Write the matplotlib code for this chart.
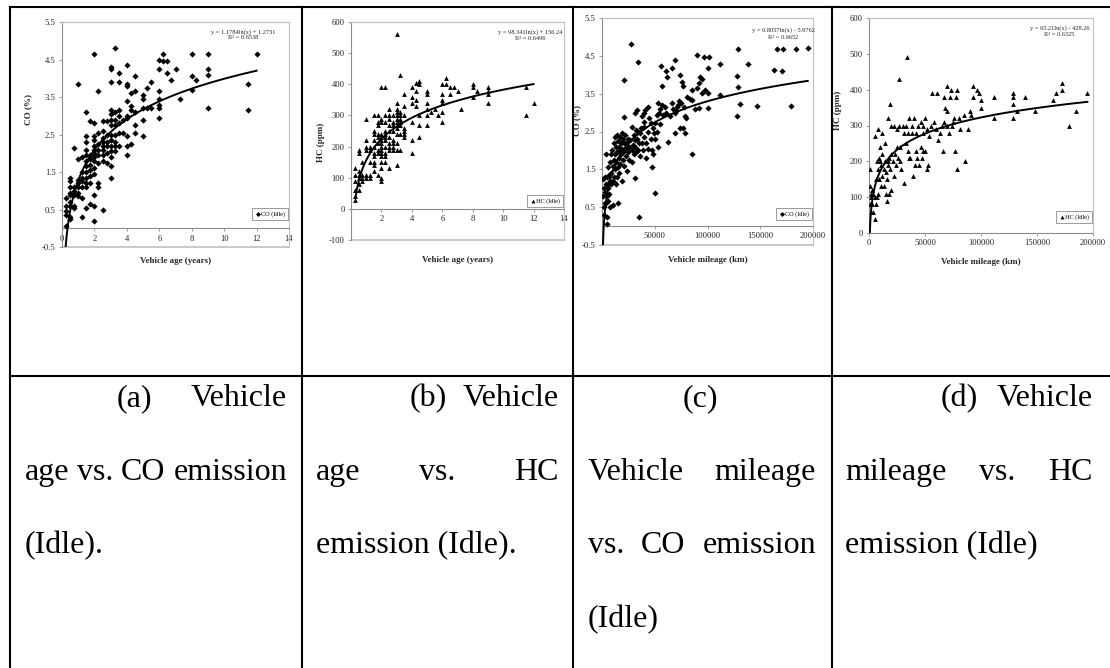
import matplotlib.pyplot as plt
import numpy as np
from matplotlib.lines import Line2D

plt.rcParams['font.family'] = ['Liberation Serif', 'DejaVu Serif']

W, H = 1110, 668

# (a) vehicle age (years) vs CO (%)
age_co = [
    (0.25, 0.8), (0.25, 0.6), (0.25, 0.45), (0.25, 0.35), (0.25, 0.05),
    (0.5, 1.35), (0.5, 1.25), (0.5, 1.1), (0.5, 0.95), (0.5, 0.9), (0.5, 0.7), (0.5, 0.6), (0.5, 0.3), (0.5, 0.25),
    (0.75, 2.15), (0.75, 1.1), (0.75, 1.0), (0.75, 0.9), (0.75, 0.6), (0.75, 0.55),
    (1, 3.85), (1, 1.85), (1, 1.3), (1, 1.2), (1, 1.1), (1, 0.95), (1, 0.85),
    (1.25, 1.9), (1.25, 1.5), (1.25, 1.35), (1.25, 1.25), (1.25, 1.1), (1.25, 0.8), (1.25, 0.3),
    (1.5, 3.1), (1.5, 2.45), (1.5, 2.3), (1.5, 2.1), (1.5, 1.95), (1.5, 1.8), (1.5, 1.65), (1.5, 1.5),
    (1.5, 1.35), (1.5, 1.2), (1.5, 1.1), (1.5, 0.55),
    (1.75, 2.85), (1.75, 1.95), (1.75, 1.85), (1.75, 1.7), (1.75, 1.55), (1.75, 1.4), (1.75, 1.2), (1.75, 0.65),
    (2, 4.65), (2, 2.8), (2, 2.45), (2, 2.35), (2, 2.2), (2, 2.1), (2, 2.0), (2, 1.9), (2, 1.8), (2, 1.6),
    (2, 1.45), (2, 0.9), (2, 0.6), (2, 0.2),
    (2.25, 3.65), (2.25, 2.55), (2.25, 2.25), (2.25, 2.1), (2.25, 1.95), (2.25, 1.75), (2.25, 1.2), (2.25, 1.1),
    (2.5, 2.85), (2.5, 2.6), (2.5, 2.4), (2.5, 2.3), (2.5, 2.2), (2.5, 2.1), (2.5, 1.95), (2.5, 1.8), (2.5, 0.5),
    (2.75, 2.85), (2.75, 2.5), (2.75, 2.3), (2.75, 2.2), (2.75, 2.0), (2.75, 1.75),
    (3, 4.3), (3, 4.25), (3, 3.9), (3, 3.15), (3, 3.05), (3, 2.9), (3, 2.75), (3, 2.5), (3, 2.35), (3, 2.2),
    (3, 2.05), (3, 1.9), (3, 1.65), (3, 1.35),
    (3.25, 4.8), (3.25, 3.1), (3.25, 2.9), (3.25, 2.75), (3.25, 2.5), (3.25, 2.3), (3.25, 2.2), (3.25, 2.05),
    (3.5, 4.15), (3.5, 3.9), (3.5, 3.15), (3.5, 3.0), (3.5, 2.8), (3.5, 2.55), (3.5, 2.2),
    (3.75, 2.9), (3.75, 2.55),
    (4, 4.35), (4, 3.85), (4, 3.8), (4, 3.4), (4, 3.0), (4, 2.95), (4, 2.45), (4, 2.2), (4, 1.95),
    (4.25, 3.6), (4.25, 3.25), (4.25, 3.15), (4.25, 2.25),
    (4.5, 4.05), (4.5, 3.65), (4.5, 3.1), (4.5, 2.75), (4.5, 2.55),
    (5, 3.55), (5, 3.45), (5, 3.2), (5, 2.9), (5, 2.45), (5.25, 3.2), (5.25, 3.75), (5.5, 3.9), (5.5, 3.2),
    (6, 4.5), (6, 4.25), (6, 3.65), (6, 3.45), (6, 3.3), (6, 3.2), (6, 2.95), (6.25, 4.45), (6.25, 4.65),
    (6.5, 4.45), (6.5, 4.15), (6.75, 3.95), (7, 4.25), (7.25, 3.45),
    (8, 4.65), (8, 4.05), (8, 3.7), (8.25, 3.95), (9, 4.65), (9, 4.25), (9, 4.1), (9, 3.2),
    (11.5, 3.85), (11.5, 3.15), (12, 4.65),
]

# (b) vehicle age (years) vs HC (ppm)
age_hc = [
    (0.25, 130), (0.25, 110), (0.25, 90), (0.25, 60), (0.25, 40), (0.25, 30),
    (0.5, 190), (0.5, 180), (0.5, 120), (0.5, 110), (0.5, 100), (0.5, 80), (0.5, 60),
    (0.75, 150), (0.75, 110), (0.75, 100), (0.75, 90),
    (1, 290), (1, 220), (1, 200), (1, 190), (1, 110), (1, 100),
    (1.25, 200), (1.25, 190), (1.25, 150), (1.25, 110), (1.25, 100),
    (1.5, 300), (1.5, 250), (1.5, 240), (1.5, 220), (1.5, 200), (1.5, 180), (1.5, 170), (1.5, 150), (1.5, 140), (1.5, 120),
    (1.75, 300), (1.75, 280), (1.75, 270), (1.75, 240), (1.75, 230), (1.75, 210), (1.75, 190), (1.75, 180), (1.75, 110),
    (2, 390), (2, 290), (2, 280), (2, 240), (2, 230), (2, 220), (2, 210), (2, 200), (2, 190), (2, 180), (2, 170),
    (2, 150), (2, 130), (2, 100), (2, 90),
    (2.25, 390), (2.25, 300), (2.25, 280), (2.25, 250), (2.25, 240), (2.25, 230), (2.25, 220), (2.25, 200),
    (2.25, 180), (2.25, 170), (2.25, 150),
    (2.5, 320), (2.5, 300), (2.5, 290), (2.5, 270), (2.5, 250), (2.5, 230), (2.5, 210), (2.5, 200), (2.5, 190), (2.5, 130),
    (2.75, 300), (2.75, 280), (2.75, 270), (2.75, 250), (2.75, 220), (2.75, 210), (2.75, 200), (2.75, 190),
    (3, 560), (3, 340), (3, 320), (3, 310), (3, 300), (3, 290), (3, 280), (3, 270), (3, 260), (3, 240), (3, 210),
    (3, 190), (3, 140),
    (3.25, 430), (3.25, 310), (3.25, 300), (3.25, 290), (3.25, 280), (3.25, 270), (3.25, 240), (3.25, 190),
    (3.5, 370), (3.5, 330), (3.5, 300), (3.5, 260), (3.5, 250), (3.5, 240), (3.5, 230),
    (4, 390), (4, 360), (4, 340), (4, 280), (4, 220), (4, 180), (4.25, 405), (4.25, 380), (4.25, 350), (4.25, 330),
    (4.5, 410), (4.5, 400), (4.5, 300), (4.5, 270), (4.5, 230),
    (5, 380), (5, 370), (5, 340), (5, 320), (5, 300), (5, 270), (5.25, 310), (5.5, 320), (5.75, 300),
    (6, 400), (6, 370), (6, 350), (6, 340), (6, 310), (6, 280), (6.25, 420), (6.25, 400), (6.5, 390), (6.5, 370),
    (6.75, 390), (7, 380), (7.25, 320), (8, 400), (8, 390), (8, 360), (8.25, 380),
    (9, 390), (9, 380), (9, 370), (9, 340), (11.5, 390), (11.5, 300), (12, 340),
]

# (c) vehicle mileage (km) vs CO (%)
km_co = [
    (500, 1.25), (1000, 0.8), (1500, 0.5), (2000, 0.3), (2000, 1.0), (2500, 0.6), (3000, 1.3), (3000, 0.9),
    (3500, 0.6), (4000, 1.1), (4000, 1.9), (4500, 0.8), (5000, 1.3), (5000, 0.25), (5000, 0.05), (5500, 1.0),
    (6000, 0.65), (6000, 1.55), (6500, 1.1), (7000, 1.35), (7000, 0.85), (7500, 1.7), (8000, 1.2), (8000, 0.5),
    (8500, 1.9), (9000, 1.4), (9000, 1.1), (9500, 2.0), (10000, 1.6), (10000, 1.2), (10500, 0.55), (11000, 2.2),
    (11000, 1.75), (11500, 1.3), (12000, 2.35), (12000, 1.9), (12500, 1.5), (13000, 2.1), (13000, 1.1),
    (13500, 1.7), (14000, 2.4), (14000, 1.3), (14500, 1.95), (15000, 2.25), (15000, 1.55), (15500, 0.6),
    (16000, 2.1), (16000, 1.8), (16500, 1.4), (17000, 2.35), (17000, 2.0), (17500, 1.65), (18000, 2.2),
    (18000, 1.9), (18500, 1.2), (19000, 2.45), (19000, 2.05), (19500, 1.75), (20000, 2.3), (20000, 1.95),
    (20500, 3.85), (20500, 2.88), (21000, 2.2), (21000, 1.6), (22000, 2.4), (22000, 2.05), (23000, 1.85),
    (23000, 2.2), (24000, 2.15), (24000, 1.45), (25000, 2.3), (25000, 1.95), (26000, 2.1), (26000, 1.75),
    (27000, 2.28), (27800, 4.82), (28000, 2.63), (28000, 2.0), (28500, 1.7), (29000, 2.15), (30000, 2.4),
    (30000, 1.9), (31000, 2.1), (31600, 2.98), (31600, 2.28), (31600, 1.26), (32000, 2.55), (32000, 1.95),
    (33000, 3.07), (33000, 2.3), (34000, 4.35), (34000, 2.5), (34000, 2.0), (35000, 2.2), (35000, 0.23),
    (36000, 2.45), (36000, 1.85), (37000, 2.6), (38000, 2.9), (38000, 2.2), (39000, 2.0), (39500, 2.98),
    (39500, 2.63), (40000, 2.35), (40000, 2.75), (41000, 3.07), (42000, 2.2), (42000, 1.8), (44000, 3.16),
    (44000, 2.5), (44000, 2.05), (45000, 2.85), (46000, 2.72), (46000, 2.3), (47000, 2.0), (47000, 1.57),
    (48000, 2.6), (48000, 1.9), (49000, 2.45), (50000, 2.3), (50000, 0.88), (50500, 2.72), (52000, 2.94),
    (52000, 2.5), (53000, 3.25), (53000, 2.1), (54000, 3.0), (55000, 3.1), (55000, 2.7), (56000, 4.22),
    (57000, 3.69), (57000, 3.2), (58000, 2.94), (60000, 3.16), (60600, 4.1), (61000, 3.0), (62000, 3.95),
    (63000, 2.23), (64000, 2.9), (66000, 4.17), (66000, 3.25), (67000, 3.1), (69000, 4.38), (69000, 2.98),
    (69000, 2.45), (70000, 3.05), (71000, 3.16), (72000, 3.2), (73000, 3.3), (74000, 4.0), (74000, 2.59),
    (75000, 3.25), (76000, 3.82), (77000, 3.69), (77000, 2.59), (78000, 3.15), (79000, 2.9), (79000, 2.47),
    (80000, 2.85), (81000, 3.42), (83000, 3.35), (85000, 3.6), (85000, 3.34), (85000, 1.91), (88000, 3.1),
    (90000, 4.53), (90000, 3.65), (92000, 3.78), (92000, 3.12), (93000, 3.95), (95000, 3.9), (95000, 3.51),
    (97000, 4.47), (98000, 3.6), (100000, 4.17), (100000, 3.51), (100000, 3.12), (101000, 4.47),
    (112000, 4.28), (112000, 3.47), (128000, 3.97), (128000, 2.91), (129000, 4.68), (129000, 3.67),
    (131000, 3.22), (138000, 4.28), (147000, 3.18), (163000, 4.13), (166000, 4.68), (171000, 4.09),
    (172000, 4.68), (179000, 3.18), (184000, 4.68), (195000, 4.7),
]

# (d) vehicle mileage (km) vs HC (ppm)
km_hc = [
    (500, 180), (1000, 130), (1000, 80), (1500, 110), (2000, 100), (2000, 60), (3000, 120), (3000, 80),
    (4000, 110), (4000, 60), (5000, 270), (5000, 100), (5000, 40), (6000, 150), (6000, 80), (7000, 200),
    (7000, 100), (8000, 290), (8000, 180), (8000, 110), (9000, 210), (9000, 150), (10000, 240), (10000, 200),
    (11000, 190), (11000, 130), (12000, 280), (12000, 220), (12000, 160), (13000, 180), (13000, 130),
    (14000, 250), (14000, 200), (15000, 170), (15000, 110), (16000, 150), (16000, 90), (17000, 320),
    (17000, 200), (17000, 190), (18000, 210), (18000, 110), (19000, 360), (19000, 180), (20000, 300),
    (20000, 220), (20000, 120), (21000, 200), (22000, 300), (22000, 160), (23000, 220), (24000, 190),
    (25000, 290), (25000, 240), (26000, 210), (27000, 430), (27000, 300), (28000, 240), (28000, 200),
    (29000, 180), (30000, 300), (31000, 280), (31000, 140), (33000, 300), (33000, 250), (34000, 490),
    (35000, 280), (35000, 230), (36000, 320), (36000, 210), (37000, 210), (38000, 300), (38000, 280),
    (39000, 160), (40000, 320), (41000, 190), (42000, 280), (42000, 230), (43000, 210), (44000, 300),
    (45000, 190), (46000, 310), (46000, 240), (47000, 210), (48000, 300), (48000, 280), (48000, 230),
    (50000, 320), (50000, 230), (52000, 290), (52000, 180), (53000, 190), (54000, 270), (55000, 300),
    (56000, 390), (58000, 310), (60000, 290), (61000, 390), (62000, 260), (63000, 280), (65000, 300),
    (66000, 230), (67000, 380), (67000, 310), (68000, 350), (70000, 410), (70000, 340), (70000, 300),
    (71000, 280), (72000, 380), (73000, 400), (74000, 300), (75000, 310), (76000, 320), (77000, 230),
    (78000, 380), (79000, 400), (79000, 180), (80000, 320), (81000, 290), (85000, 330), (86000, 200),
    (88000, 290), (90000, 340), (91000, 330), (93000, 410), (93000, 380), (96000, 400), (98000, 390),
    (100000, 370), (100000, 350), (112000, 380), (112000, 320), (129000, 390), (129000, 380),
    (129000, 360), (129000, 320), (132000, 340), (139000, 380), (148000, 340), (164000, 370),
    (167000, 390), (172000, 420), (172000, 400), (179000, 300), (185000, 340), (195000, 390),
]

# trendline coefficients shown on each chart: y = a ln(x) + b
fits = [(1.1784, 1.2731, 0.6538), (98.341, 156.24, 0.6496), (0.8057, -5.9762, 0.6652), (65.21, -428.26, 0.6325)]
fit_ranges = [(0.22, 12), (0.3, 12), (895, 195000), (711, 195000)]

captions = [
    ["(a) Vehicle", "age vs. CO emission", "(Idle)."],
    ["(b) Vehicle", "age vs. HC", "emission (Idle)."],
    ["(c)", "Vehicle mileage", "vs. CO emission", "(Idle)"],
    ["(d) Vehicle", "mileage vs. HC", "emission (Idle)"],
]

fig = plt.figure(figsize=(W / 100, H / 100), dpi=100)
fig.patch.set_facecolor('white')

FRAME = '#c0c0c0'
AXC = '#8c8c8c'
TXT = '#262626'


def px_axes(l, t, r, b):
    return fig.add_axes([l / W, 1 - b / H, (r - l) / W, (b - t) / H])


panels = [
    dict(box=(62, 22, 289, 247), pts=age_co, marker='D', s=10, leg='CO (Idle)',
         xlim=(0, 14), ylim=(-0.5, 5.5), xt=np.arange(0, 15, 2), yt=np.arange(-0.5, 5.6, 1.0), yfmt='{:.1f}',
         xlabel='Vehicle age (years)', ylabel='CO (%)', ylc=(-0.13, 0.61), xlc=(0.5, -0.045),
         eq=(0.80, 0.955, 0.933), legpos=(1.0, 0.115)),
    dict(box=(351, 22, 564, 240), pts=age_hc, marker='^', s=12, leg='HC (Idle)',
         xlim=(0, 14), ylim=(-100, 600), xt=np.arange(2, 15, 2), yt=np.arange(-100, 601, 100), yfmt='{:.0f}',
         xlabel='Vehicle age (years)', ylabel='HC (ppm)', ylc=(-0.12, 0.45), xlc=(0.5, -0.075),
         eq=(0.84, 0.955, 0.925), legpos=(1.0, 0.147)),
    dict(box=(602, 18, 813, 245), pts=km_co, marker='D', s=10, leg='CO (Idle)',
         xlim=(0, 200000), ylim=(-0.5, 5.5), xt=np.arange(50000, 200001, 50000), yt=np.arange(-0.5, 5.6, 1.0),
         yfmt='{:.1f}', xlabel='Vehicle mileage (km)', ylabel='CO (%)', ylc=(-0.1, 0.55), xlc=(0.5, -0.05),
         eq=(0.86, 0.945, 0.915), legpos=(1.0, 0.106)),
    dict(box=(869, 18, 1093, 233), pts=km_hc, marker='^', s=12, leg='HC (Idle)',
         xlim=(0, 200000), ylim=(0, 600), xt=np.arange(0, 200001, 50000), yt=np.arange(0, 601, 100),
         yfmt='{:.0f}', xlabel='Vehicle mileage (km)', ylabel='HC (ppm)', ylc=(-0.12, 0.57), xlc=(0.5, -0.115),
         eq=(0.85, 0.955, 0.925), legpos=(1.0, 0.04)),
]

for p, (a, b, r2), (x0, x1) in zip(panels, fits, fit_ranges):
    ax = px_axes(*p['box'])
    ax.set_xlim(p['xlim'])
    ax.set_ylim(p['ylim'])
    pts = np.array(p['pts'], dtype=float)
    sc = ax.scatter(pts[:, 0], pts[:, 1], marker=p['marker'], s=p['s'], color='black', linewidths=0, zorder=3)
    xs = np.linspace(x0, x1, 300)
    ax.plot(xs, a * np.log(xs) + b, color='black', lw=1.4, zorder=4)

    for side in ['top', 'right']:
        ax.spines[side].set_color(FRAME)
        ax.spines[side].set_linewidth(0.8)
    for side in ['left', 'bottom']:
        ax.spines[side].set_color(AXC)
        ax.spines[side].set_linewidth(0.8)
    if p['ylim'][0] < 0:
        ax.spines['bottom'].set_position(('data', 0))
        ax.axhline(p['ylim'][0], color=FRAME, lw=1.2, clip_on=False)

    ax.set_xticks(p['xt'])
    ax.set_xticklabels([str(int(v)) for v in p['xt']])
    ax.set_yticks(p['yt'])
    ax.set_yticklabels([p['yfmt'].format(v) for v in p['yt']])
    ax.tick_params(direction='out', length=2.5, width=0.6, color=AXC, labelsize=6.2, labelcolor=TXT, pad=2)

    ax.set_xlabel(p['xlabel'], fontsize=6.5, fontweight='bold', color=TXT)
    ax.set_ylabel(p['ylabel'], fontsize=6.5, fontweight='bold', color=TXT)
    ax.xaxis.set_label_coords(*p['xlc'])
    ax.yaxis.set_label_coords(*p['ylc'])

    sign = '+' if b >= 0 else '-'
    ex, ey1, ey2 = p['eq']
    ax.text(ex, ey1, f'y = {a:g}ln(x) {sign} {abs(b):g}', transform=ax.transAxes, ha='center', va='center',
            fontsize=4.6, color=TXT)
    ax.text(ex, ey2, f'R\u00b2 = {r2:.4f}', transform=ax.transAxes, ha='center', va='center',
            fontsize=4.6, color=TXT)

    leg = ax.legend([sc], [p['leg']], loc='lower right', bbox_to_anchor=p['legpos'], fontsize=4.5,
                    frameon=True, fancybox=False, edgecolor=AXC, framealpha=1, borderpad=0.5,
                    handletextpad=0.1, handlelength=0.8, markerscale=0.8, borderaxespad=0.2)
    leg.get_frame().set_linewidth(0.6)

# table grid
LW = 1.5
def hline(y, x0, x1):
    fig.add_artist(Line2D([x0 / W, x1 / W], [1 - y / H, 1 - y / H], color='black', lw=LW))

def vline(x, y0, y1):
    fig.add_artist(Line2D([x / W, x / W], [1 - y0 / H, 1 - y1 / H], color='black', lw=LW))

hline(7, 10, W)
hline(376, 10, W)
for cx in [10, 302, 573, 832]:
    vline(cx, 7, H)

# justified caption text in the lower row
CAP_FS = 23
col_text = [(25, 287, 117), (316, 559, 410), (588, 816, 683), (845, 1093, 941)]
baselines = [406, 480, 553, 627]
renderer = fig.canvas.get_renderer()

for lines, (left, right, indent) in zip(captions, col_text):
    for i, line in enumerate(lines):
        y = 1 - baselines[i] / H
        start = indent if i == 0 else left
        last = i == len(lines) - 1
        words = line.split(' ')
        if last or len(words) == 1:
            fig.text(start / W, y, line, fontsize=CAP_FS, va='baseline', ha='left')
            continue
        arts = [fig.text(0, y, w, fontsize=CAP_FS, va='baseline', ha='left') for w in words]
        widths = [t.get_window_extent(renderer).width for t in arts]
        gap = (right - start - sum(widths)) / (len(words) - 1)
        x = start
        for t, w in zip(arts, widths):
            t.set_x(x / W)
            x += w + gap

fig.savefig('out.png', dpi=100, facecolor='white')
